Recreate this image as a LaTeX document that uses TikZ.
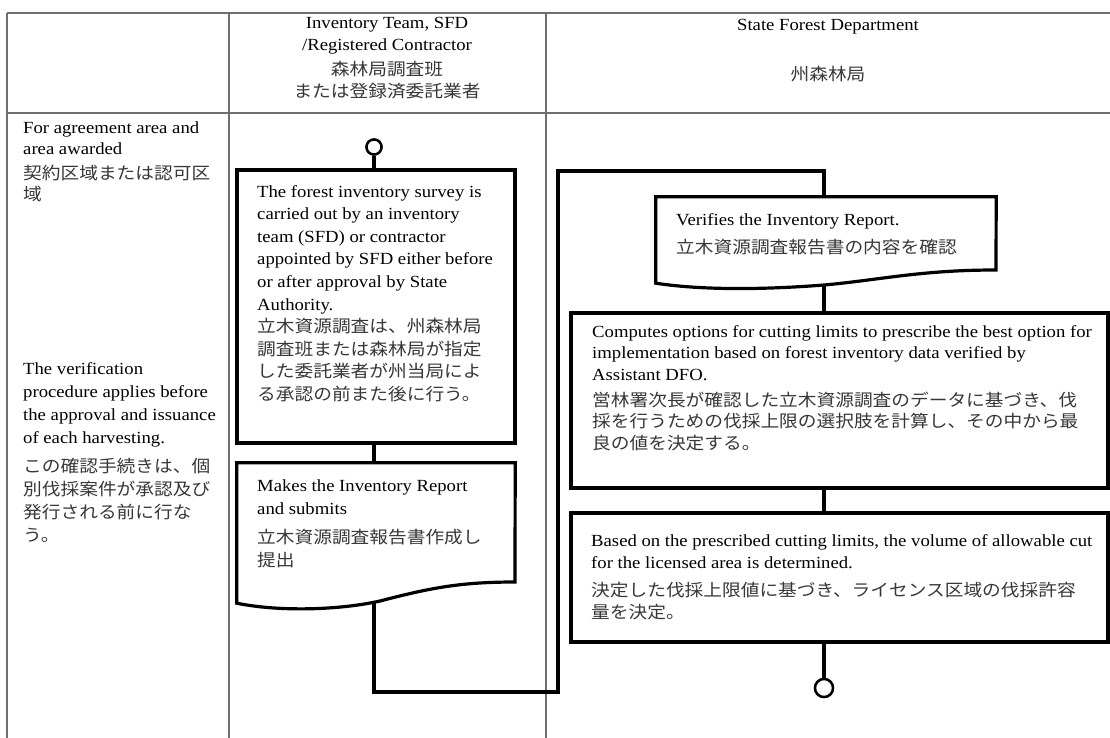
\documentclass[tikz,border=0pt]{standalone}
\usepackage{fontspec}
\setmainfont{Liberation Serif}[FakeStretch=1.10]
\newfontfamily\jpfam{Noto Sans CJK JP}[FakeStretch=1.10]
\definecolor{tablegray}{RGB}{110,110,110}
\definecolor{jpgray}{RGB}{55,55,55}
\newcommand{\jp}{\jpfam\color{jpgray}}
\begin{document}
\begin{tikzpicture}[x=1pt,y=-1pt,
  tableline/.style={draw=tablegray, line width=1.1pt},
  pbox/.style={draw=black, fill=white, line width=3.2pt, rectangle, inner sep=0pt},
  docbox/.style={draw=black, fill=white, line width=3.2pt, line join=miter},
  holder/.style={rectangle, inner sep=0pt},
  conn/.style={draw=black, line width=3.2pt},
  txt/.style={anchor=north west, inner sep=0pt, align=left},
  hdr/.style={inner sep=0pt, align=center, font=\fontsize{17}{22}\selectfont},
  term/.style={circle, draw=black, fill=white, line width=2.4pt, inner sep=0pt}]
\useasboundingbox[fill=white] (0,0) rectangle (1110,738);

% table
\draw[tableline] (7,13) -- (1110,13);
\draw[tableline] (7,113) -- (1110,113);
\draw[tableline] (7,13) -- (7,738);
\draw[tableline] (229,13) -- (229,738);
\draw[tableline] (546,13) -- (546,738);

% headers
\node[hdr, anchor=north] (h1) at (387,17) {Inventory Team, SFD\\ /Registered Contractor\\[3pt] \jp 森林局調査班\\ \jp または登録済委託業者};
\node[hdr, anchor=base] (h2a) at (828,31) {State Forest Department};
\node[hdr, anchor=base] (h2b) at (828,81) {\jp 州森林局};

% left column notes
\node[txt, font=\fontsize{17}{21}\selectfont] (n1) at (23,122) {For agreement area and\\ area awarded\\[4pt] \jp 契約区域または認可区\\ \jp 域};
\node[txt, font=\fontsize{17}{23}\selectfont] (n2) at (23,362) {The verification\\ procedure applies before\\ the approval and issuance\\ of each harvesting.\\[6pt] \jp この確認手続きは、個\\ \jp 別伐採案件が承認及び\\ \jp 発行される前に行な\\ \jp う。};

% flow x positions
\coordinate (fx1) at (374,0);
\coordinate (fx2) at (824,0);

% placeholders
\node[holder, minimum width=278, minimum height=140] (d2) at (376,533) {};
\node[holder, minimum width=340, minimum height=86] (d3) at (826,240) {};
\coordinate (d2w) at (374,602);
\coordinate (d3w) at (824,285);
\coordinate (j1) at (558,692);
\coordinate (j2) at (558,171);

% terminals
\node[term, minimum size=15] (start) at (374,147) {};
\node[term, minimum size=18] (stop) at (824,688) {};

% process boxes
\node[pbox, minimum width=278, minimum height=273] (b1) at (376,306.5) {};
\node[pbox, minimum width=537, minimum height=175] (b4) at (839.5,400.5) {};
\node[pbox, minimum width=537, minimum height=129] (b5) at (839.5,577.5) {};

% connectors
\draw[conn] (start.south) -- (start.south |- b1.north);
\draw[conn] (b1.south -| fx1) -- (d2.north -| fx1);
\draw[conn] (d2w) |- (j1) -- (j2) -| (d3.north -| fx2);
\draw[conn] (d3w) -- (b4.north -| fx2);
\draw[conn] (b4.south -| fx2) -- (b5.north -| fx2);
\draw[conn] (b5.south -| fx2) -- (stop.north);

% document shapes
\draw[docbox] (d2.north west) -- (d2.north east) -- (515,582)
  .. controls (460,582) and (430,588) .. (380,601)
  .. controls (340,610) and (280,612) .. (d2.south west) -- cycle;
\draw[docbox] (d3.north west) -- (d3.north east) -- (996,270)
  .. controls (920,270) and (880,280) .. (824,285)
  .. controls (760,290) and (700,290) .. (d3.south west) -- cycle;

% redraw terminals on top
\node[term, minimum size=15] at (start) {};
\node[term, minimum size=18] at (stop) {};

% box texts
\node[txt, font=\fontsize{17}{22.6}\selectfont] (t1) at (257,185) {The forest inventory survey is\\ carried out by an inventory\\ team (SFD) or contractor\\ appointed by SFD either before\\ or after approval by State\\ Authority.\\ \jp 立木資源調査は、州森林局\\ \jp 調査班または森林局が指定\\ \jp した委託業者が州当局によ\\ \jp る承認の前また後に行う。};
\node[txt, font=\fontsize{17}{23}\selectfont] (t2) at (257,479) {Makes the Inventory Report\\ and submits\\[6pt] \jp 立木資源調査報告書作成し\\ \jp 提出};
\node[txt, font=\fontsize{17}{22}\selectfont] (t3) at (676,213) {Verifies the Inventory Report.\\[6pt] \jp 立木資源調査報告書の内容を確認};
\node[txt, font=\fontsize{17}{21.5}\selectfont] (t4) at (592,325) {Computes options for cutting limits to prescribe the best option for\\ implementation based on forest inventory data verified by\\ Assistant DFO.\\[4.5pt] \jp 営林署次長が確認した立木資源調査のデータに基づき、伐\\ \jp 採を行うための伐採上限の選択肢を計算し、その中から最\\ \jp 良の値を決定する。};
\node[txt, font=\fontsize{17}{22}\selectfont] (t5) at (591,534) {Based on the prescribed cutting limits, the volume of allowable cut\\ for the licensed area is determined.\\[6pt] \jp 決定した伐採上限値に基づき、ライセンス区域の伐採許容\\ \jp 量を決定。};
\end{tikzpicture}
\end{document}
